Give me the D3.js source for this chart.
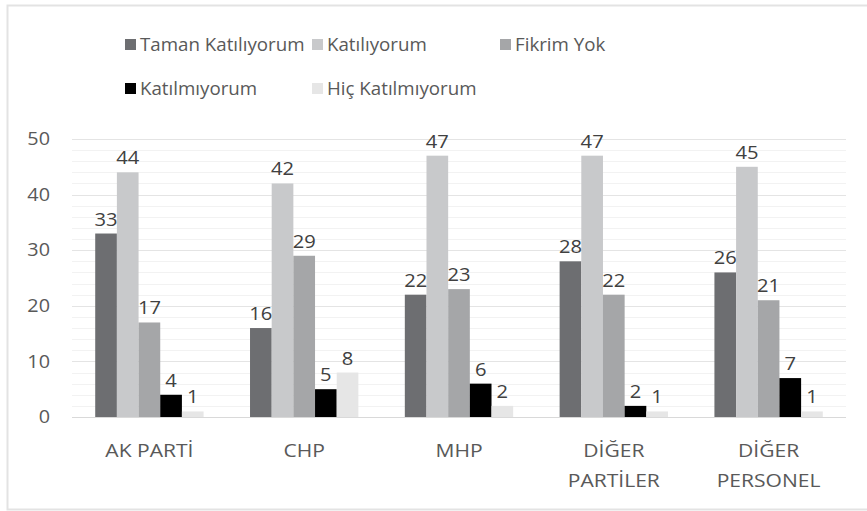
<!DOCTYPE html>
<html lang="tr">
<head>
  <meta charset="UTF-8" />
  <title>Grafik</title>
  <script src="https://d3js.org/d3.v7.min.js"></script>
  <style>
    body { margin: 0; background: #fff; }
    svg { display: block; font-family: 'Open Sans', 'Noto Sans', sans-serif; }
  </style>
</head>
<body>
  <svg id="chart" width="867" height="511"></svg>

  <script>
    // veriler
    const categories = ["AK PARTİ", "CHP", "MHP", "DİĞER PARTİLER", "DİĞER PERSONEL"];
    const categoryLines = [["AK PARTİ"], ["CHP"], ["MHP"], ["DİĞER", "PARTİLER"], ["DİĞER", "PERSONEL"]];
    const seriesNames = ["Taman Katılıyorum", "Katılıyorum", "Fikrim Yok", "Katılmıyorum", "Hiç Katılmıyorum"];
    const tamamen = [33, 16, 22, 28, 26];
    const katiliyorum = [44, 42, 47, 47, 45];
    const fikrimYok = [17, 29, 23, 22, 21];
    const katilmiyorum = [4, 5, 6, 2, 7];
    const hicKatilmiyorum = [1, 8, 2, 1, 1];
    const yTicks = [0, 10, 20, 30, 40, 50];

    const seriesValues = [tamamen, katiliyorum, fikrimYok, katilmiyorum, hicKatilmiyorum];
    const colors = ["#6d6e71", "#c8c9cb", "#a5a6a8", "#000000", "#e6e6e6"];
    const fontSize = 18;

    const svg = d3.select("#chart");

    // dış çerçeve
    svg.append("rect")
      .attr("x", 7.5).attr("y", 5.5)
      .attr("width", 870).attr("height", 504)
      .attr("fill", "none").attr("stroke", "#e3e3e3").attr("stroke-width", 2);

    const x0 = d3.scaleBand().domain(categories).range([72, 846])
      .paddingInner(0.3).paddingOuter(0.15);
    const x1 = d3.scaleBand().domain(seriesNames).range([0, x0.bandwidth()]);
    const y = d3.scaleLinear().domain([0, 50]).range([417, 139]);

    // ara ızgara çizgileri
    svg.append("g")
      .selectAll("line")
      .data(d3.range(0, 51, 2).filter(v => v % 10 !== 0))
      .join("line")
      .attr("x1", 72).attr("x2", 846)
      .attr("y1", d => Math.round(y(d)) + 0.5).attr("y2", d => Math.round(y(d)) + 0.5)
      .attr("stroke", "#f2f2f2");

    // ana ızgara
    svg.append("g")
      .selectAll("line")
      .data(yTicks.slice(1))
      .join("line")
      .attr("x1", 72).attr("x2", 846)
      .attr("y1", d => Math.round(y(d)) + 0.5).attr("y2", d => Math.round(y(d)) + 0.5)
      .attr("stroke", "#e4e4e4");

    // y ekseni etiketleri (resimdeki yazı yatayda biraz geniş)
    svg.append("g")
      .selectAll("text")
      .data(yTicks)
      .join("text")
      .attr("transform", d => `translate(50,${y(d)}) scale(1.1,1)`)
      .attr("dy", "0.34em")
      .attr("text-anchor", "end")
      .attr("font-size", fontSize)
      .attr("fill", "#595959")
      .text(d => d);

    // çubuklar
    const groups = svg.append("g")
      .selectAll("g")
      .data(categories)
      .join("g")
      .attr("transform", d => `translate(${x0(d)},0)`);

    groups.selectAll("rect")
      .data((c, ci) => seriesNames.map((s, si) => ({ s, si, v: seriesValues[si][ci] })))
      .join("rect")
      .attr("x", d => x1(d.s))
      .attr("width", x1.bandwidth())
      .attr("y", d => y(d.v))
      .attr("height", d => y(0) - y(d.v))
      .attr("fill", d => colors[d.si]);

    groups.selectAll("text")
      .data((c, ci) => seriesNames.map((s, si) => ({ s, si, v: seriesValues[si][ci] })))
      .join("text")
      .attr("transform", d => `translate(${x1(d.s) + x1.bandwidth() / 2},${y(d.v) - 8}) scale(1.12,1)`)
      .attr("text-anchor", "middle")
      .attr("font-size", fontSize)
      .attr("fill", "#404040")
      .text(d => d.v);

    // x ekseni
    svg.append("line")
      .attr("x1", 72).attr("x2", 846)
      .attr("y1", 417.5).attr("y2", 417.5)
      .attr("stroke", "#d9d9d9");

    const xLabels = svg.append("g")
      .selectAll("text")
      .data(categories)
      .join("text")
      .attr("transform", d => `translate(${x0(d) + x0.bandwidth() / 2},457) scale(1.17,1)`)
      .attr("text-anchor", "middle")
      .attr("font-size", fontSize)
      .attr("fill", "#595959");
    xLabels.selectAll("tspan")
      .data((d, i) => categoryLines[i])
      .join("tspan")
      .attr("x", 0)
      .attr("dy", (d, i) => i === 0 ? 0 : 30)
      .text(d => d);

    // lejant
    const legendPos = [[125, 45], [312, 45], [500, 45], [125, 89], [312, 89]];
    const legend = svg.append("g")
      .selectAll("g")
      .data(seriesNames)
      .join("g")
      .attr("transform", (d, i) => `translate(${legendPos[i][0]},${legendPos[i][1]})`);
    legend.append("rect")
      .attr("x", 0).attr("y", -6)
      .attr("width", 11).attr("height", 11)
      .attr("fill", (d, i) => colors[i]);
    legend.append("text")
      .attr("transform", "translate(15,6) scale(1.04,1)")
      .attr("font-size", fontSize)
      .attr("fill", "#595959")
      .text(d => d);
  </script>
</body>
</html>
